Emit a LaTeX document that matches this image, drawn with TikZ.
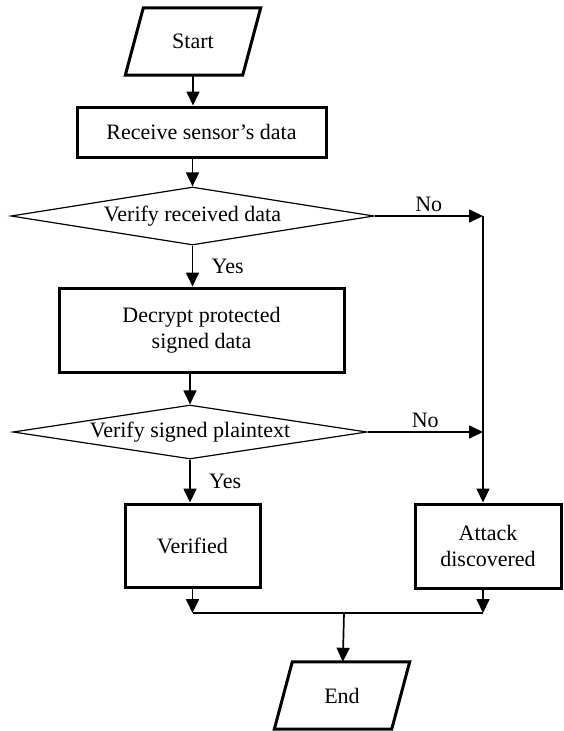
\documentclass[tikz,border=0pt]{standalone}
\usepackage{fontspec}
\setmainfont{Liberation Serif}
\usetikzlibrary{shapes.geometric,arrows.meta}

\tikzset{
	proc/.style={rectangle, draw, line width=3pt, inner sep=0pt, align=center},
	io/.style={rectangle, inner sep=0pt, minimum height=67pt, minimum width=117pt},
	iobox/.style={line width=3pt, line join=miter},
	test/.style={diamond, draw, line width=1.2pt, inner sep=0pt, aspect=7},
	arr/.style={-{Triangle[length=14pt,width=13pt]}, line width=1.7pt},
	wire/.style={line width=1.2pt},
}

\begin{document}
\begin{tikzpicture}[x=1pt, y=1pt, font=\fontsize{22}{25.5}\selectfont]
	\useasboundingbox (0,0) rectangle (564,-731);

	% Main column
	\node[io] (start) at (193,-41.5) {Start};
	\draw[iobox] ([xshift=-9pt]start.south west) -- ([xshift=-9pt]start.south east) -- ([xshift=9pt]start.north east) -- ([xshift=9pt]start.north west) -- cycle;
	\node[proc, minimum width=249pt, minimum height=50pt] (rcv) at (201.5,-132) {Receive sensor's data};
	\node[test, minimum width=363pt, minimum height=58pt] (ver1) at (192.5,-216) {Verify received data};
	\node[proc, minimum width=285pt, minimum height=84pt] (dec) at (201.5,-330) {Decrypt protected\\signed data};
	\node[test, minimum width=354pt, minimum height=54pt] (ver2) at (190,-432) {Verify signed plaintext};
	\node[proc, minimum width=135pt, minimum height=83pt] (done) at (192.5,-545.5) {Verified};

	% Attack branch
	\node[proc, minimum width=146pt, minimum height=84pt] (atk) at (488,-546) {Attack\\discovered};
	\coordinate (r1) at (483,-216);

	% End
	\coordinate (j) at (344,-613);
	\node[io] (stop) at (342,-695.5) {End};
	\draw[iobox] ([xshift=-9pt]stop.south west) -- ([xshift=-9pt]stop.south east) -- ([xshift=9pt]stop.north east) -- ([xshift=9pt]stop.north west) -- cycle;

	\draw[arr] (start) -- (start |- rcv.north);
	\draw[arr] (ver1.north |- rcv.south) -- (ver1.north);
	\draw[arr] (ver1) -- (ver1 |- dec.north) node[midway, right, xshift=15pt] {Yes};
	\draw[arr] (ver2.north |- dec.south) -- (ver2.north);
	\draw[arr] (ver2) -- (ver2 |- done.north) node[midway, right, xshift=15pt] {Yes};

	\draw[arr] (ver1.east) -- (r1) node[midway, above] {No};
	\draw[arr] (ver2.east) -- (r1 |- ver2.east) node[midway, above] {No};
	\draw[arr] (r1) -- (r1 |- atk.north);

	\draw[arr] (done) -- (done |- j);
	\draw[arr] (atk.south -| r1) -- (r1 |- j);
	\draw[wire] (done |- j) -- (r1 |- j);
	\draw[arr] (j) -- (stop);
\end{tikzpicture}
\end{document}
